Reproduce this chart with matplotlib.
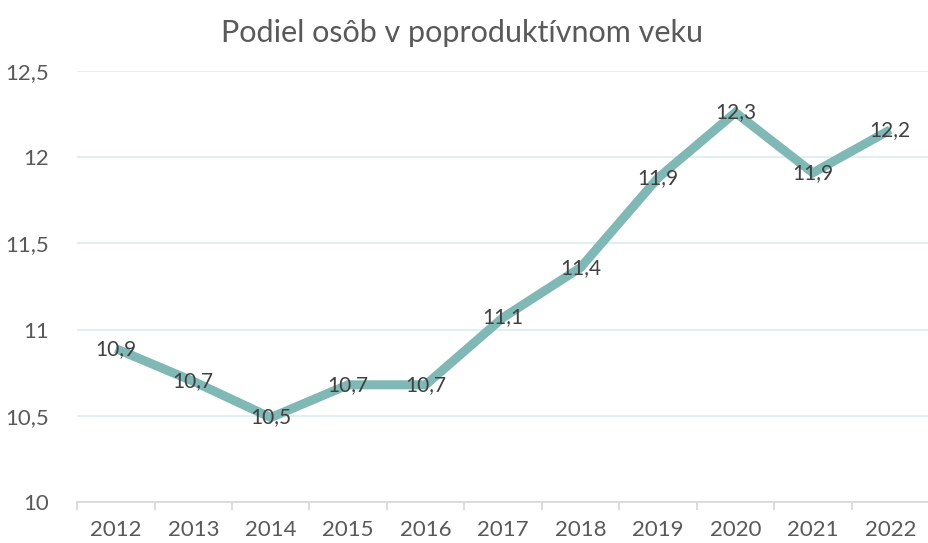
import matplotlib.pyplot as plt
from matplotlib.ticker import FixedLocator

years = ['2012', '2013', '2014', '2015', '2016', '2017', '2018', '2019', '2020', '2021', '2022']
values = [10.89, 10.70, 10.49, 10.68, 10.68, 11.07, 11.36, 11.88, 12.26, 11.91, 12.16]
yticks = [10, 10.5, 11, 11.5, 12, 12.5]

plt.rcParams['font.family'] = ['Lato', 'DejaVu Sans']
text_color = '#595959'

fig = plt.figure(figsize=(9.29, 5.43), dpi=100)
ax = fig.add_axes([0.083, 0.0755, 0.917, 0.7935])

x = list(range(len(years)))
ax.plot(x, values, color='#7FB8B5', linewidth=6.5, solid_joinstyle='miter', solid_capstyle='butt', zorder=3)

for xi, v in zip(x, values):
    ax.text(xi, v, f'{v:.1f}'.replace('.', ','), ha='center', va='center',
            fontsize=15, color='#404040', zorder=4)

ax.set_xlim(-0.5, len(years) - 0.5)
ax.set_ylim(10, 12.5)
ax.set_yticks(yticks)
ax.set_yticklabels([f'{t:g}'.replace('.', ',') for t in yticks])
ax.set_xticks(x)
ax.set_xticklabels(years)
ax.xaxis.set_minor_locator(FixedLocator([i - 0.5 for i in range(len(years) + 1)]))

ax.grid(axis='y', color='#DCEEF1', linewidth=1.3)
ax.set_axisbelow(True)
for s in ['top', 'right', 'left']:
    ax.spines[s].set_visible(False)
ax.spines['bottom'].set_color('#D9D9D9')
ax.spines['bottom'].set_linewidth(1.3)

ax.tick_params(axis='y', length=0, pad=20, labelsize=16, labelcolor=text_color)
ax.tick_params(axis='x', which='major', length=0, pad=13, labelsize=16, labelcolor=text_color)
ax.tick_params(axis='x', which='minor', length=6, width=1.3, color='#D9D9D9')

fig.text(0.497, 0.94, 'Podiel osôb v poproduktívnom veku', ha='center', va='center',
         fontsize=22, color=text_color)

fig.savefig('out.png', dpi=100)
